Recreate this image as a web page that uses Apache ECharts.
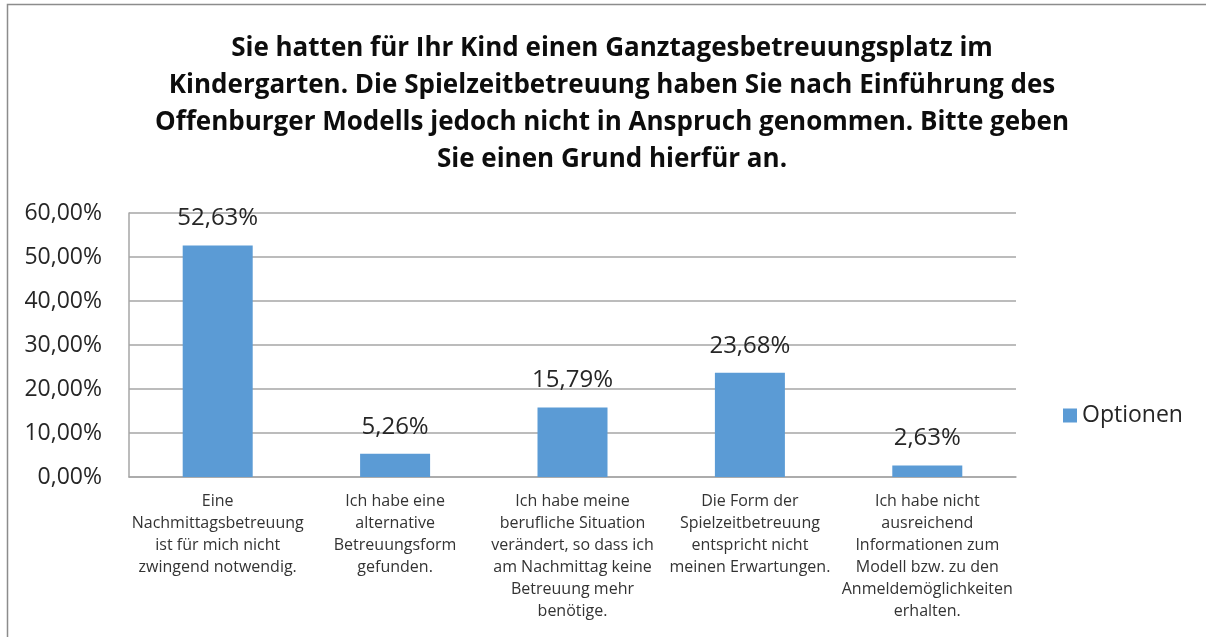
<!DOCTYPE html>
<html>
<head>
<meta charset="utf-8">
<script src="https://cdn.jsdelivr.net/npm/echarts@6/dist/echarts.min.js"></script>
<style>
html,body{margin:0;padding:0;background:#fff;}
#chart{width:1206px;height:637px;}
</style>
</head>
<body>
<div id="chart"></div>
<script>
const titleText = 'Sie hatten für Ihr Kind einen Ganztagesbetreuungsplatz im\nKindergarten. Die Spielzeitbetreuung haben Sie nach Einführung des\nOffenburger Modells jedoch nicht in Anspruch genommen. Bitte geben\nSie einen Grund hierfür an.';
const categories = [
  'Eine\nNachmittagsbetreuung\nist für mich nicht\nzwingend notwendig.',
  'Ich habe eine\nalternative\nBetreuungsform\ngefunden.',
  'Ich habe meine\nberufliche Situation\nverändert, so dass ich\nam Nachmittag keine\nBetreuung mehr\nbenötige.',
  'Die Form der\nSpielzeitbetreuung\nentspricht nicht\nmeinen Erwartungen.',
  'Ich habe nicht\nausreichend\nInformationen zum\nModell bzw. zu den\nAnmeldemöglichkeiten\nerhalten.'
];
const seriesName = 'Optionen';
const values = [52.63, 5.26, 15.79, 23.68, 2.63];
const yTicks = [0, 10, 20, 30, 40, 50, 60];

const fmt = v => v.toFixed(2).replace('.', ',') + '%';
const font = '"Open Sans", sans-serif';

const chart = echarts.init(document.getElementById('chart'), null, {renderer: 'canvas'});
chart.setOption({
  animation: false,
  backgroundColor: '#fff',
  graphic: [{
    type: 'rect', silent: true,
    shape: {x: 7.5, y: 4.5, width: 1300, height: 700},
    style: {fill: 'none', stroke: '#8c8c8c', lineWidth: 1.5}
  }],
  title: {
    text: titleText,
    left: 607, top: 25, textAlign: 'center',
    textStyle: {fontFamily: font, fontWeight: 'bold', fontSize: 26, lineHeight: 37, color: '#0d0d0d'}
  },
  legend: {
    data: [seriesName],
    left: 1058, top: 399,
    itemWidth: 14, itemHeight: 14, itemGap: 8,
    icon: 'rect',
    textStyle: {fontFamily: font, fontSize: 23, color: '#262626'}
  },
  grid: {left: 129, right: 190, top: 213, bottom: 160},
  xAxis: {
    type: 'category',
    data: categories,
    axisLine: {show: true, lineStyle: {color: '#a6a6a6', width: 1.5}},
    axisTick: {show: false},
    axisLabel: {interval: 0, margin: 13, fontFamily: font, fontSize: 16, lineHeight: 22, color: '#333333', align: 'center'}
  },
  yAxis: {
    type: 'value',
    min: yTicks[0], max: yTicks[yTicks.length - 1], interval: 10,
    axisLine: {show: true, lineStyle: {color: '#a6a6a6', width: 1.5}},
    axisTick: {show: false},
    splitLine: {show: true, lineStyle: {color: '#a6a6a6', width: 1.5}},
    axisLabel: {margin: 27, fontFamily: font, fontSize: 23, color: '#262626', formatter: v => fmt(v)}
  },
  series: [{
    name: seriesName,
    type: 'bar',
    data: values,
    barWidth: 70,
    itemStyle: {color: '#5b9bd5'},
    label: {
      show: true, position: 'top', distance: 15,
      fontFamily: font, fontSize: 24, lineHeight: 24, color: '#262626',
      formatter: p => fmt(p.value)
    }
  }]
});
</script>
</body>
</html>
